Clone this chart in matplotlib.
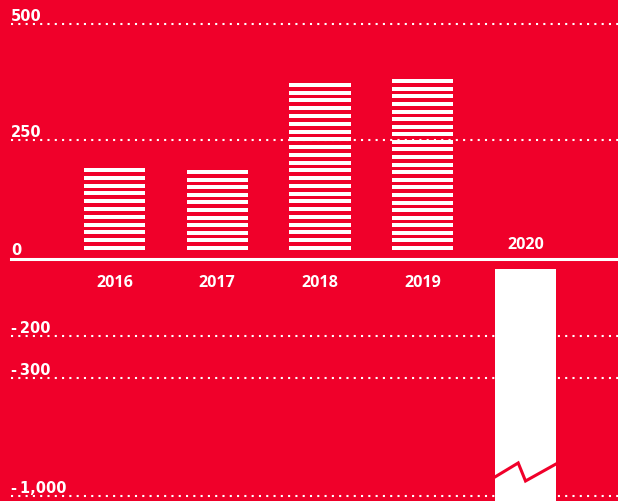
import matplotlib
matplotlib.use("Agg")
import matplotlib.pyplot as plt
import numpy as np

years = ["2016", "2017", "2018", "2019", "2020"]
values = [191, 187, 373, 381, -1100]
grid_values = [500, 250, -200, -300, -1000]
grid_labels = ["500", "250", "-\u2009200", "-\u2009300", "-\u20091,000"]
zero_label = "0"
# break mark drawn across the 2020 bar (value coords)
break_x = [-0.5, -0.12, 0.0, 0.5]
break_y = [-887, -804, -911, -810]

red = "#f0002a"
white = "#ffffff"

# broken y axis: value -> pixel row (from top)
scale_vals = [-1100, -1000, -300, -200, 0, 250, 500, 600]
scale_pix = np.array([514, 497, 379, 337, 260, 141, 25, -21], dtype=float)


def forward(v):
    return -np.interp(v, scale_vals, scale_pix)


def inverse(u):
    return np.interp(u, -scale_pix, scale_vals)


fig = plt.figure(figsize=(6.18, 5.02), dpi=100, facecolor=red)
ax = fig.add_axes([0, 0, 1, 1])
ax.set_facecolor(red)
ax.set_yscale("function", functions=(forward, inverse))
ax.set_ylim(inverse(-502), inverse(0))
ax.set_xlim(-1.114, 4.9)
ax.axis("off")

x = np.arange(len(years))
width = 0.594
x0 = 11 / 618

# gridlines
for gv, gl in zip(grid_values, grid_labels):
    ax.axhline(gv, xmin=x0, xmax=1, color=white, lw=1.5,
               linestyle=(0, (1, 2.5)), zorder=1)
    ax.annotate(gl, xy=(x0, gv), xycoords=("axes fraction", "data"),
                xytext=(0, 3.2), textcoords="offset points",
                ha="left", va="baseline", color=white,
                fontsize=10.5, fontweight="bold", family="DejaVu Sans")

# zero line
ax.axhline(0, xmin=x0, xmax=1, color=white, lw=2.2, zorder=3)
ax.annotate(zero_label, xy=(x0, 0), xycoords=("axes fraction", "data"),
            xytext=(0, 3.6), textcoords="offset points",
            ha="left", va="baseline", color=white,
            fontsize=10.5, fontweight="bold", family="DejaVu Sans")

stripe_h = 4.0
stripe_p = 7.6
u0 = forward(0)
for xi, v, yr in zip(x, values, years):
    if v > 0:
        u_top = forward(v)
        u_bot = u0 + 9
        span = u_top - u_bot - stripe_h
        n = int(round(span / stripe_p))
        tops = u_top - np.arange(n + 1) * span / n
        bots = tops - stripe_h
        ax.bar(xi, inverse(tops) - inverse(bots), bottom=inverse(bots),
               width=width, color=white, lw=0, zorder=2)
        ax.annotate(yr, xy=(xi, 0), xytext=(0, -10.5),
                    textcoords="offset points", ha="center", va="top",
                    color=white, fontsize=11.6, fontweight="bold",
                    family="Open Sans")
    else:
        top = inverse(u0 - 10)
        ax.bar(xi, v - top, bottom=top, width=width, color=white,
               lw=0, zorder=2)
        ax.plot(xi + np.array(break_x) * width, break_y, color=red,
                lw=2.2, zorder=4, solid_joinstyle="miter")
        ax.annotate(yr, xy=(xi, 0), xytext=(0, 8),
                    textcoords="offset points", ha="center", va="baseline",
                    color=white, fontsize=11.6, fontweight="bold",
                    family="Open Sans")

fig.savefig("out.png", dpi=100, facecolor=red)
